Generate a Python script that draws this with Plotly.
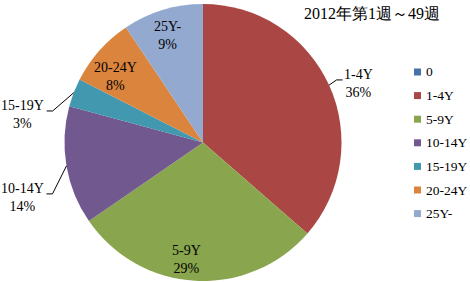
import math
import plotly.graph_objects as go

# ---- data ----
labels = ["0", "1-4Y", "5-9Y", "10-14Y", "15-19Y", "20-24Y", "25Y-"]
values = [0, 36.4, 29.0, 13.8, 3.3, 8.1, 9.4]
colors = ["#4572A7", "#AA4643", "#89A54E", "#71588F", "#4198AF", "#DB843D", "#93A9CF"]
title_text = "2012年第1週～49週"

# ---- layout / style ----
W, H = 470, 282
CX, CY, R = 203, 142.5, 138.5
FONT = "Liberation Serif"
LBL_SIZE = 14

# label placement style per slice: (mode, angle offset deg, radius factor)
label_style = {
    "1-4Y": ("out", 3.9, 1.203),
    "5-9Y": ("in", 5.0, 0.85),
    "10-14Y": ("out", -7.3, 1.366),
    "15-19Y": ("out", -12.4, 1.32),
    "20-24Y": ("in", -4.8, 0.79),
    "25Y-": ("in", -1.3, 0.81),
}


def px(x):
    return x / W


def py(y):
    return 1 - y / H


def polar(ang_deg, r):
    a = math.radians(ang_deg)
    return CX + r * math.sin(a), CY - r * math.cos(a)


def text_w(s):
    w = 0
    for ch in s:
        if ch.isdigit():
            w += 7
        elif ch == "-":
            w += 4.7
        elif ch == "Y":
            w += 10.1
        elif ch == "%":
            w += 11.7
        else:
            w += 7
    return w


fig = go.Figure()
fig.add_trace(go.Pie(
    labels=labels, values=values, sort=False, direction="clockwise", rotation=0,
    marker=dict(colors=colors, line=dict(width=0)),
    textinfo="none", hoverinfo="label+percent", showlegend=False,
    domain=dict(x=[px(CX - R), px(CX + R)], y=[py(CY + R), py(CY - R)]),
))

total = sum(values)
annotations = []
shapes = []
cum = 0.0
for lab, v in zip(labels, values):
    start = cum / total * 360
    cum += v
    end = cum / total * 360
    if v <= 0:
        continue
    mid = (start + end) / 2
    pct = round(v / total * 100)
    mode, dang, rf = label_style[lab]
    lx, ly = polar(mid + dang, rf * R)
    annotations.append(dict(
        x=px(lx), y=py(ly), xref="paper", yref="paper", showarrow=False,
        text=f"{lab}<br>{pct}%", xanchor="center", yanchor="middle",
        font=dict(family=FONT, size=LBL_SIZE, color="black"), align="center",
    ))
    if mode == "out":
        ex, ey = polar(mid, R)
        hw = max(text_w(lab), text_w(f"{pct}%")) / 2
        if lx > CX:
            endx = lx - hw - 2
            elbx = endx - 6
        else:
            endx = lx + hw + 3
            elbx = endx + 6
        endy = ly - 4
        for (x0, y0, x1, y1) in [(ex, ey, elbx, endy), (elbx, endy, endx, endy)]:
            shapes.append(dict(type="line", xref="paper", yref="paper",
                               x0=px(x0), y0=py(y0), x1=px(x1), y1=py(y1),
                               line=dict(color="black", width=1)))

# legend (manual, to match spacing)
LEG_X, LEG_Y0, LEG_DY, MS = 417.5, 72, 23.6, 7
for i, (lab, col) in enumerate(zip(labels, colors)):
    yc = LEG_Y0 + i * LEG_DY
    shapes.append(dict(type="rect", xref="paper", yref="paper",
                       x0=px(LEG_X - MS / 2), x1=px(LEG_X + MS / 2),
                       y0=py(yc + MS / 2), y1=py(yc - MS / 2),
                       fillcolor=col, line=dict(width=0)))
    annotations.append(dict(
        x=px(LEG_X + MS / 2 + 3), y=py(yc), xref="paper", yref="paper",
        showarrow=False, text=lab, xanchor="left", yanchor="middle",
        font=dict(family=FONT, size=13.5, color="black"),
    ))

annotations.append(dict(
    x=px(372), y=py(13), xref="paper", yref="paper", showarrow=False,
    text=title_text, xanchor="center", yanchor="middle",
    font=dict(family=FONT, size=16, color="black"),
))

fig.update_layout(
    width=W, height=H, margin=dict(l=0, r=0, t=0, b=0),
    paper_bgcolor="white", plot_bgcolor="white",
    font=dict(family=FONT),
    annotations=annotations, shapes=shapes,
)

fig.write_html("out.html")
